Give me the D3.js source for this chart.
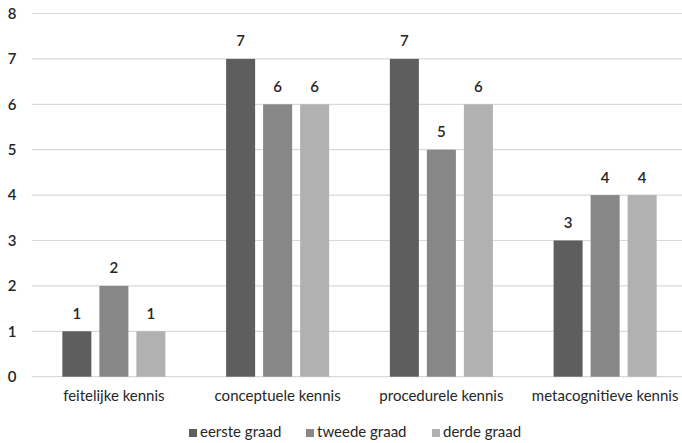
<!DOCTYPE html>
<html>
<head>
<meta charset="utf-8">
<script src="https://cdn.jsdelivr.net/npm/d3@7"></script>
<style>
  body { margin: 0; background: #fff; }
  svg { display: block; font-family: "Lato", "Open Sans", sans-serif; }
</style>
</head>
<body>
<svg id="chart" width="682" height="443"></svg>
<script>
const categories = ["feitelijke kennis", "conceptuele kennis", "procedurele kennis", "metacognitieve kennis"];
const seriesNames = ["eerste graad", "tweede graad", "derde graad"];
const eersteGraad = [1, 7, 7, 3];
const tweedeGraad = [2, 6, 5, 4];
const derdeGraad = [1, 6, 6, 4];
const yTicks = [0, 1, 2, 3, 4, 5, 6, 7, 8];
const colors = ["#5e5e5e", "#878787", "#b1b1b1"];

const series = [eersteGraad, tweedeGraad, derdeGraad];
const svg = d3.select("#chart");
const textColor = "#262626";

const x0 = d3.scaleBand().domain(categories).range([32, 687]).paddingInner(0).paddingOuter(0);
const x1 = d3.scaleBand().domain(seriesNames).range([0, x0.bandwidth()]).paddingInner(0.216).paddingOuter(0.82);
const y = d3.scaleLinear().domain([0, 8]).range([376.7, 13.5]);

// gridlines
svg.append("g").selectAll("line").data(yTicks).join("line")
  .attr("x1", 32).attr("x2", 682)
  .attr("y1", d => y(d)).attr("y2", d => y(d))
  .attr("stroke", "#d9d9d9").attr("stroke-width", 1.2);

// y axis labels
const yAxis = d3.axisLeft(y).tickValues(yTicks).tickSize(0).tickPadding(0).tickFormat(d3.format("d"));
const ya = svg.append("g").attr("transform", "translate(12,0)").call(yAxis);
ya.select(".domain").remove();
ya.selectAll("text").attr("font-size", 15).attr("fill", textColor).attr("text-anchor", "middle")
  .attr("font-family", "Lato, sans-serif").attr("font-weight", 600);

// bars
const groups = svg.append("g").selectAll("g").data(categories).join("g")
  .attr("transform", d => `translate(${x0(d)},0)`);

groups.selectAll("rect").data((c, i) => seriesNames.map((s, j) => ({ s, j, v: series[j][i] })))
  .join("rect")
  .attr("x", d => x1(d.s))
  .attr("width", x1.bandwidth())
  .attr("y", d => y(d.v))
  .attr("height", d => y(0) - y(d.v))
  .attr("fill", d => colors[d.j]);

groups.selectAll("text.val").data((c, i) => seriesNames.map((s, j) => ({ s, j, v: series[j][i] })))
  .join("text").attr("class", "val")
  .attr("x", d => x1(d.s) + x1.bandwidth() / 2)
  .attr("y", d => y(d.v) - 12.5)
  .attr("text-anchor", "middle")
  .attr("font-size", 15).attr("font-weight", 600).attr("fill", textColor)
  .text(d => d.v);

// category axis
const xAxis = d3.axisBottom(x0).tickSize(0).tickPadding(0);
const xa = svg.append("g").attr("transform", `translate(0,${y(0) + 24.5})`).call(xAxis);
xa.select(".domain").remove();
xa.selectAll("text").attr("font-size", 15).attr("fill", textColor).attr("dy", 0)
  .attr("font-family", "Lato, sans-serif");

// legend
const legendX = [189, 306, 432];
const legend = svg.append("g").selectAll("g").data(seriesNames).join("g")
  .attr("transform", (d, i) => `translate(${legendX[i]},437)`);
legend.append("rect").attr("x", 0).attr("y", -8).attr("width", 8).attr("height", 8)
  .attr("fill", (d, i) => colors[i]);
legend.append("text").attr("x", 11).attr("y", 0)
  .attr("font-size", 15).attr("fill", textColor).text(d => d);
</script>
</body>
</html>
